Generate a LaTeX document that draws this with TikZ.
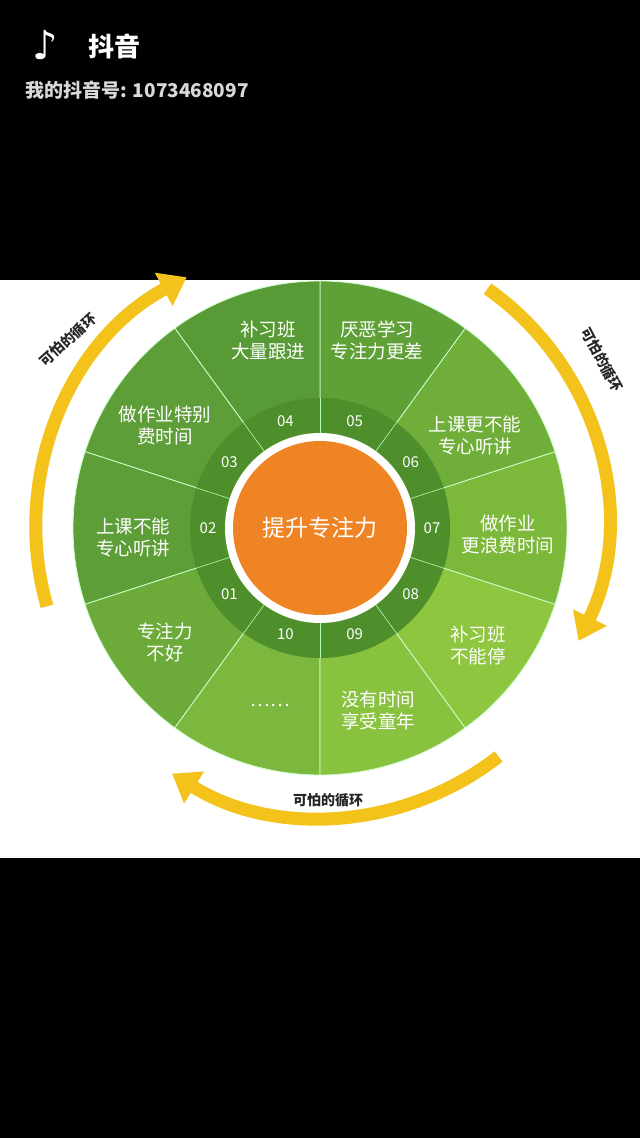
\documentclass[tikz,border=0pt]{standalone}
\usepackage{fontspec}
\newfontfamily\cjk{Noto Sans CJK SC}
\newfontfamily\dejavu{DejaVu Sans}
\usetikzlibrary{arrows.meta,positioning,calc}
\definecolor{ringgreen}{HTML}{4E8F2C}
\definecolor{arrowyellow}{HTML}{F3C21B}
\definecolor{centerorange}{HTML}{EF8424}
\tikzset{
  sectortext/.style={font=\cjk\fontsize{18.5}{22}\selectfont, text=white, align=center},
  numtext/.style={font=\cjk\fontsize{15}{17}\selectfont, text=white},
  looparrow/.style={arrowyellow, line width=13pt, -{Triangle[length=26pt,width=36pt]}},
  looptext/.style={font=\cjk\bfseries\fontsize{14}{16}\selectfont, text=black!85}
}
\begin{document}
\begin{tikzpicture}[x=1pt,y=1pt]
\useasboundingbox (0,0) rectangle (640,1138);
\fill[black] (0,0) rectangle (640,1138);
\fill[white] (0,280) rectangle (640,858);
% header
\node[font=\dejavu\fontsize{40}{40}\selectfont, text=white] (logo) at (45,1093) {♪};
\node[font=\cjk\bfseries\fontsize{26}{28}\selectfont, text=white, anchor=west] (app) at (85,1092) {抖音};
\node[font=\cjk\bfseries\fontsize{19}{22}\selectfont, text=white!85!black, anchor=west] (uid) at (22,1048) {我的抖音号: 1073468097};
\coordinate (C) at (320,610);
% sectors
\foreach \i/\c in {0/7CB83A,1/6FAE38,2/5FA037,3/589A36,4/5E9E38,5/5E9E38,6/6CAA3A,7/7CB83D,8/88C23F,9/8EC640}{
  \definecolor{sc}{HTML}{\c}
  \fill[sc, draw=white!80!green, line width=0.8pt] (C) -- ++(-18+\i*36:247) arc[start angle=-18+\i*36, end angle=18+\i*36, radius=247] -- cycle;
}
\fill[ringgreen] (C) circle (130);
\foreach \a in {18,54,...,342}
  \draw[white!70!green, line width=0.6pt] ($(C)+(\a:95)$) -- ($(C)+(\a:130)$);
\fill[white] (C) circle (95);
\fill[centerorange] (C) circle (87);
\node[font=\cjk\fontsize{23}{26}\selectfont, text=white] (core) at (C) {提升专注力};
% sector labels
\node[sectortext] (s04) at (268,798) {补习班\\大量跟进};
\node[sectortext] (s05) at (377,798) {厌恶学习\\专注力更差};
\node[sectortext] (s06) at (475,703) {上课更不能\\专心听讲};
\node[sectortext] (s07) at (508,603) {做作业\\更浪费时间};
\node[sectortext] (s08) at (478,493) {补习班\\不能停};
\node[sectortext] (s09) at (378,428) {没有时间\\享受童年};
\node[sectortext] (s10) at (270,433) {……};
\node[sectortext] (s01) at (165,496) {专注力\\不好};
\node[sectortext] (s02) at (133,601) {上课不能\\专心听讲};
\node[sectortext] (s03) at (165,713) {做作业特别\\费时间};
% ring numbers
\foreach \n/\a in {07/0,06/36,05/72,04/108,03/144,02/180,01/216,10/252,09/288,08/324}
  \node[numtext] (n\n) at ($(C)+(\a:112)$) {\n};
% loop arrows
\draw[looparrow] ($(C)+(196:284)$) arc[start angle=196, end angle=118, radius=284];
\draw[looparrow] ($(C)+(55:292)$) arc[start angle=55, end angle=-26, radius=280];
\draw[looparrow] ($(C)+(-52:290)$) arc[start angle=-52, end angle=-122, radius=285];
\node[looptext, rotate=42] (l1) at (68,798) {可怕的循环};
\node[looptext, rotate=-62] (l2) at (602,778) {可怕的循环};
\node[looptext] (l3) at (328,338) {可怕的循环};
\end{tikzpicture}
\end{document}
